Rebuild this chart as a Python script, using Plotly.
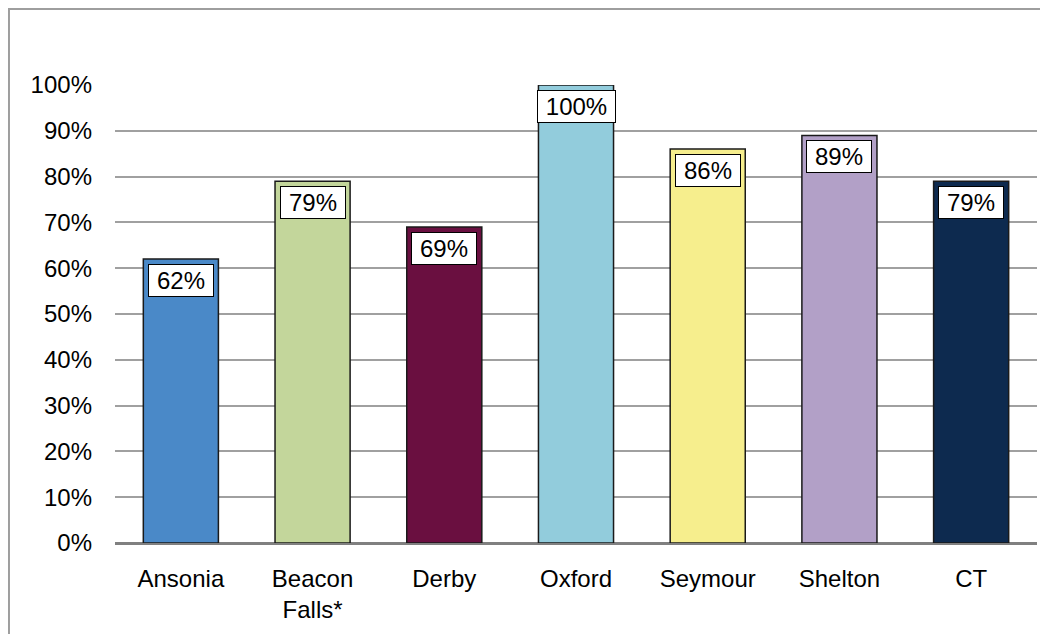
import plotly.graph_objects as go

categories = ["Ansonia", "Beacon<br>Falls*", "Derby", "Oxford", "Seymour", "Shelton", "CT"]
values = [0.62, 0.79, 0.69, 1.00, 0.86, 0.89, 0.79]
labels = ["62%", "79%", "69%", "100%", "86%", "89%", "79%"]
colors = ["#4A89C8", "#C3D69B", "#6A0F40", "#92CCDC", "#F6EE8D", "#B2A0C7", "#0D2A4F"]
tick_vals = [0, 0.1, 0.2, 0.3, 0.4, 0.5, 0.6, 0.7, 0.8, 0.9, 1.0]
tick_text = ["0%", "10%", "20%", "30%", "40%", "50%", "60%", "70%", "80%", "90%", "100%"]

FONT = "Liberation Sans, Arial, sans-serif"
FS = 24

fig = go.Figure()
fig.add_trace(go.Bar(
    x=categories, y=values,
    marker=dict(color=colors, line=dict(color="#1A1A1A", width=1.5)),
    width=0.57, cliponaxis=False, hoverinfo="skip",
))

for c, v, t in zip(categories, values, labels):
    fig.add_annotation(
        x=c, y=v, xref="x", yref="y", text=t, showarrow=False,
        yanchor="top", yshift=-5, width=13 * len(t) + 21,
        bgcolor="white", bordercolor="#000000", borderwidth=1, borderpad=2,
        font=dict(family=FONT, size=FS, color="black"),
    )

fig.add_shape(type="rect", xref="paper", yref="paper",
              x0=-0.115, x1=1.05, y0=-0.3, y1=1.166,
              line=dict(color="#9E9E9E", width=2), fillcolor="rgba(0,0,0,0)", layer="below")

fig.update_layout(
    width=1040, height=626,
    margin=dict(l=107, r=11, t=77, b=91),
    paper_bgcolor="white", plot_bgcolor="white",
    showlegend=False, bargap=0.43,
    font=dict(family=FONT, size=FS, color="black"),
    xaxis=dict(showgrid=False, showline=False, ticks="", ticklabelstandoff=19,
               tickfont=dict(family=FONT, size=FS, color="black")),
    yaxis=dict(range=[0, 1.0], tickvals=tick_vals, ticktext=tick_text,
               showgrid=True, gridcolor="#A0A0A0", gridwidth=1.5,
               zeroline=True, zerolinecolor="#808080", zerolinewidth=2.5,
               showline=False, ticks="", ticklabelstandoff=22,
               tickfont=dict(family=FONT, size=FS, color="black")),
)

fig.write_html("out.html")
